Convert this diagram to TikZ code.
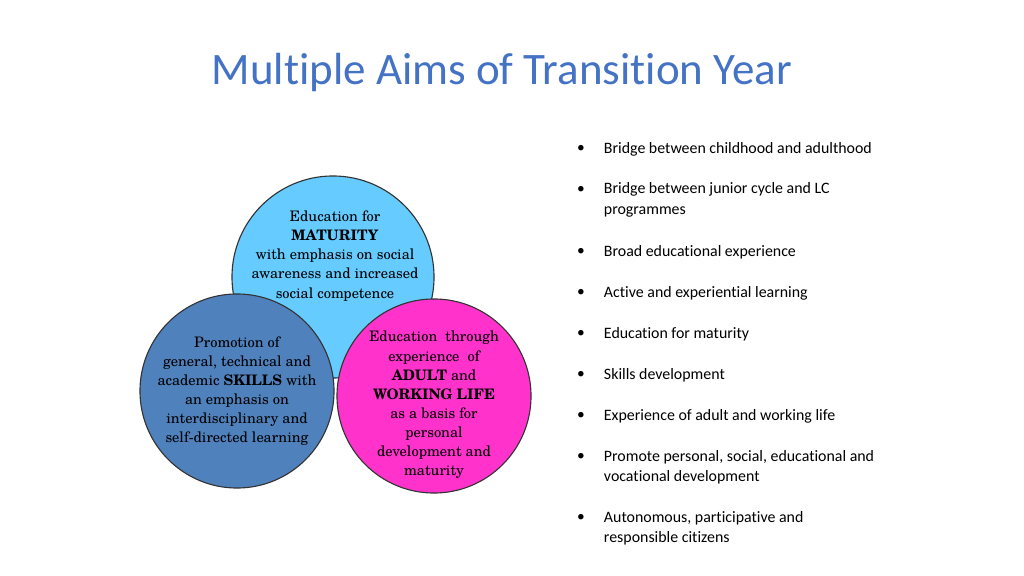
\documentclass[tikz,border=0pt]{standalone}
\usepackage{fontspec}
\setmainfont{TeX Gyre Schola}
\newfontfamily\slidefont[Ligatures=NoCommon]{Carlito}
\definecolor{titleblue}{HTML}{4472C4}
\definecolor{skyfill}{HTML}{66CCFF}
\definecolor{steelfill}{HTML}{4F81BD}
\definecolor{pinkfill}{HTML}{FF33CC}
\tikzset{
    aim/.style={circle, draw=black!80, line width=0.8pt, minimum size=#1, inner sep=0pt},
    aimtext/.style={align=center, font=\fontsize{10.3}{13.6}\selectfont},
    bullettext/.style={anchor=west, align=left, font=\slidefont\fontsize{11.3}{14.5}\selectfont},
    dot/.style={font=\slidefont\fontsize{11}{14}\selectfont}
}
\begin{document}
\begin{tikzpicture}[x=0.025cm, y=-0.025cm]
    \useasboundingbox (0, 0) rectangle (1024, 576);
    \node[font=\slidefont\fontsize{32}{36}\selectfont, text=titleblue] (title) at (502, 73) {Multiple Aims of Transition Year};

    % three circles
    \node[aim=5.05cm, fill=skyfill] (maturity) at (333, 277) {};
    \node[aim=4.85cm, fill=steelfill] (skills) at (237, 391) {};
    \node[aim=4.85cm, fill=pinkfill] (adult) at (434, 396) {};

    \node[aimtext] (maturitytext) at (335, 256) {Education for\\\textbf{MATURITY}\\with emphasis on social\\awareness and increased\\social competence};
    \node[aimtext] (skillstext) at (237, 391) {Promotion of\\general, technical and\\academic \textbf{SKILLS} with\\an emphasis on\\interdisciplinary and\\self-directed learning};
    \node[aimtext] (adulttext) at (434, 405) {Education\ \ through\\experience\ \ of\\\textbf{ADULT} and\\\textbf{WORKING LIFE}\\as a basis for\\personal\\development and\\maturity};

    % bullet list
    \foreach \y/\txt [count=\i] in {
        149/{Bridge between childhood and adulthood},
        200/{Bridge between junior cycle and LC\\programmes},
        252/{Broad educational experience},
        293/{Active and experiential learning},
        334/{Education for maturity},
        375/{Skills development},
        416/{Experience of adult and working life},
        467/{Promote personal, social, educational and\\vocational development},
        528/{Autonomous, participative and\\responsible citizens}}
    {
        \node[bullettext] (aim\i) at (599, \y) {\txt};
    }
    \foreach \y in {149, 190, 252, 293, 334, 375, 416, 457, 518}
        \node[dot] at (581, \y) {\textbullet};
\end{tikzpicture}
\end{document}
